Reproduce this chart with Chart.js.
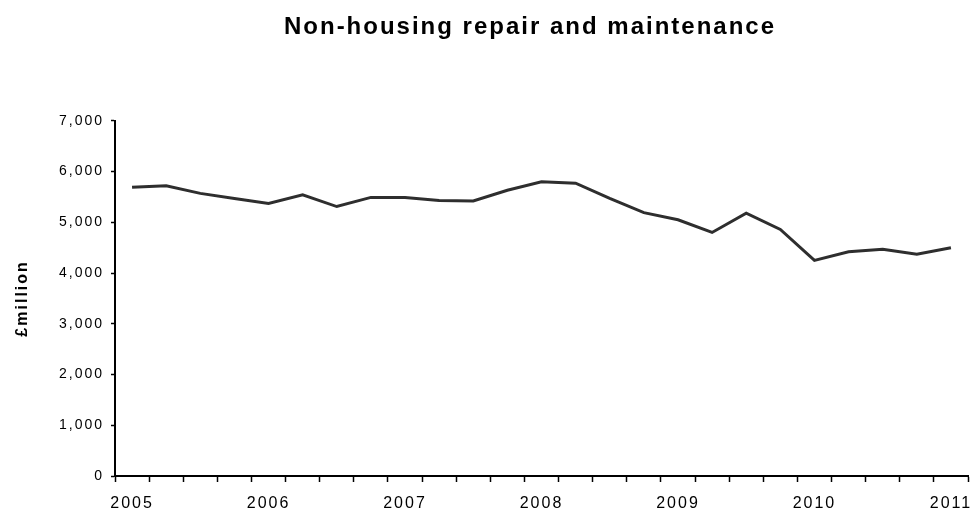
<!DOCTYPE html>
<html>
<head>
<meta charset="utf-8">
<script src="https://cdn.jsdelivr.net/npm/chart.js@4/dist/chart.umd.min.js"></script>
<style>
  html, body { margin: 0; padding: 0; background: #ffffff; }
  #wrap { width: 974px; height: 512px; }
</style>
</head>
<body>
<div id="wrap"><canvas id="c" width="974" height="512"></canvas></div>
<script>
const chartTitle = 'Non-housing repair and maintenance';
const yAxisTitle = '£million';
const quarters = [
  '2005 Q1','2005 Q2','2005 Q3','2005 Q4',
  '2006 Q1','2006 Q2','2006 Q3','2006 Q4',
  '2007 Q1','2007 Q2','2007 Q3','2007 Q4',
  '2008 Q1','2008 Q2','2008 Q3','2008 Q4',
  '2009 Q1','2009 Q2','2009 Q3','2009 Q4',
  '2010 Q1','2010 Q2','2010 Q3','2010 Q4',
  '2011 Q1'
];
const yearLabels = ['2005','2006','2007','2008','2009','2010','2011'];
const values = [
  5690, 5720, 5570, 5470,
  5370, 5540, 5310, 5490,
  5490, 5430, 5420, 5630,
  5800, 5770, 5470, 5190,
  5050, 4800, 5180, 4860,
  4250, 4420, 4470, 4370,
  4500
];
const yTicks = [0, 1000, 2000, 3000, 4000, 5000, 6000, 7000];

const spacingPlugin = {
  id: 'spacing',
  beforeUpdate(chart) { chart.ctx.letterSpacing = '2px'; },
  afterLayout(chart) {
    // centre the title over the plot rather than the whole canvas
    if (chart.titleBlock) { chart.titleBlock.left = 86; chart.titleBlock.right = 974; }
  },
  beforeDraw(chart) { chart.ctx.letterSpacing = '2px'; }
};

const fontFamily = '"Liberation Sans", Arial, sans-serif';

new Chart(document.getElementById('c'), {
  type: 'line',
  data: {
    labels: quarters,
    datasets: [{
      label: chartTitle,
      data: values,
      borderColor: '#2e2e2e',
      borderWidth: 3,
      pointRadius: 0,
      tension: 0,
      fill: false
    }]
  },
  options: {
    responsive: false,
    animation: false,
    devicePixelRatio: 1,
    layout: { padding: { left: 0, right: 6, top: 0, bottom: 2 } },
    plugins: {
      legend: { display: false },
      tooltip: { enabled: false },
      title: {
        display: true,
        text: chartTitle,
        color: '#000',
        font: { family: fontFamily, size: 24, weight: 'bold' },
        padding: { top: 13, bottom: 79 }
      }
    },
    scales: {
      x: {
        type: 'category',
        offset: true,
        afterFit: function (scale) {
          scale.height = 34;
          scale.paddingLeft = 0;
          scale.paddingRight = 0;
        },
        border: { display: true, color: '#000', width: 2 },
        grid: {
          offset: true,
          drawOnChartArea: false,
          drawTicks: true,
          tickLength: 6,
          tickColor: '#000',
          tickWidth: 1.5,
          color: '#000'
        },
        ticks: {
          autoSkip: false,
          maxRotation: 0,
          minRotation: 0,
          padding: 12,
          color: '#000',
          font: { family: fontFamily, size: 16 },
          callback: function (value, index) {
            return index % 4 === 0 ? yearLabels[index / 4] : '';
          }
        }
      },
      y: {
        min: 0,
        max: 7000,
        afterFit: function (scale) { scale.width = 115; },
        afterBuildTicks: function (scale) {
          scale.ticks = yTicks.map(v => ({ value: v }));
        },
        border: { display: true, color: '#000', width: 2 },
        grid: {
          drawOnChartArea: false,
          drawTicks: true,
          tickLength: 4,
          tickColor: '#000',
          tickWidth: 1.5,
          color: '#000'
        },
        ticks: {
          padding: 7,
          color: '#000',
          font: { family: fontFamily, size: 14 },
          callback: function (value) { return value.toLocaleString('en-US'); }
        },
        title: {
          display: true,
          text: yAxisTitle,
          color: '#000',
          font: { family: fontFamily, size: 16, weight: 'bold' },
          padding: { top: 13, bottom: 0 }
        }
      }
    }
  },
  plugins: [spacingPlugin]
});
</script>
</body>
</html>
